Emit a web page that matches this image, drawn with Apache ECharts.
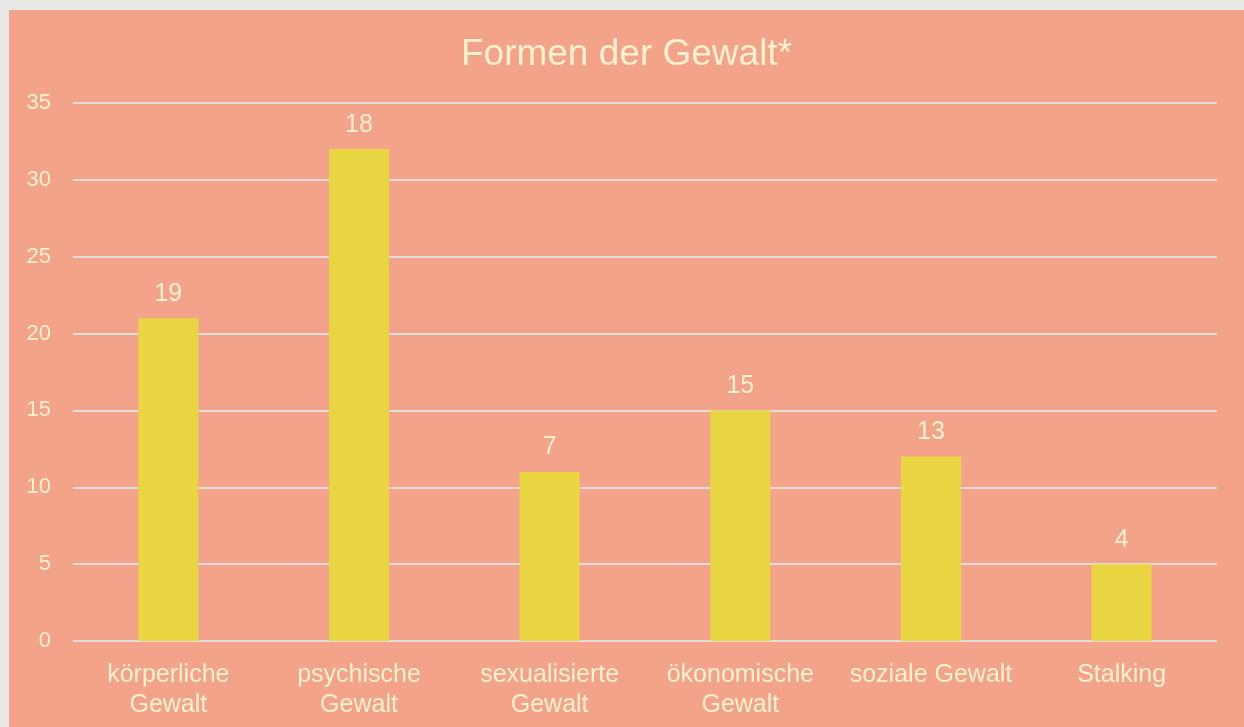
<!DOCTYPE html>
<html>
<head>
<meta charset="utf-8">
<script src="https://cdn.jsdelivr.net/npm/echarts@6/dist/echarts.min.js"></script>
<style>
  html, body { margin: 0; padding: 0; background: #ebe9e7; }
  #chart { position: absolute; left: 9px; top: 10px; width: 1235px; height: 717px; }
</style>
</head>
<body>
<div id="chart"></div>
<script>
const categories = ['körperliche\nGewalt', 'psychische\nGewalt', 'sexualisierte\nGewalt', 'ökonomische\nGewalt', 'soziale Gewalt', 'Stalking'];
// bar heights as drawn
const values = [21, 32, 11, 15, 12, 5];
// numbers printed above the bars
const barLabels = ['19', '18', '7', '15', '13', '4'];
const yTicks = { min: 0, max: 35, interval: 5 };

const textColor = '#fff2cc';
const chart = echarts.init(document.getElementById('chart'));

const option = {
  backgroundColor: '#f3a389',
  textStyle: { fontFamily: 'Liberation Sans, Arial, sans-serif' },
  title: {
    text: 'Formen der Gewalt*',
    left: 'center',
    top: 21,
    textStyle: { color: textColor, fontSize: 37, fontWeight: 'normal' }
  },
  grid: { left: 64, right: 27, top: 93, bottom: 86 },
  xAxis: {
    type: 'category',
    data: categories,
    axisLine: { show: false },
    axisTick: { show: false },
    axisLabel: { color: textColor, fontSize: 25, lineHeight: 30, margin: 19, interval: 0 }
  },
  yAxis: {
    type: 'value',
    min: yTicks.min,
    max: yTicks.max,
    interval: yTicks.interval,
    axisLine: { show: false },
    axisTick: { show: false },
    axisLabel: { color: textColor, fontSize: 22, margin: 22 },
    splitLine: { lineStyle: { color: '#e3dcdc', width: 2 } }
  },
  series: [
    {
      type: 'bar',
      data: values,
      barWidth: '31.5%',
      itemStyle: { color: '#ead643' },
      label: {
        show: true,
        position: 'top',
        distance: 12,
        color: textColor,
        fontSize: 25,
        formatter: p => barLabels[p.dataIndex]
      }
    }
  ]
};

chart.setOption(option);
</script>
</body>
</html>
